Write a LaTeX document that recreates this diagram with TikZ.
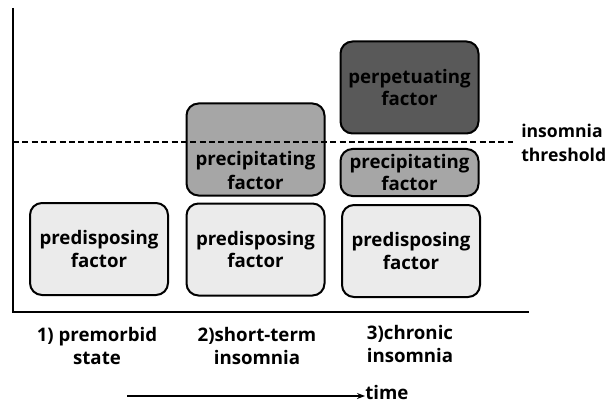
\documentclass[tikz,border=0pt]{standalone}
\usepackage{fontspec}
\setmainfont{Open Sans}
\usetikzlibrary{positioning,arrows.meta}
\definecolor{dispgray}{HTML}{EBEBEB}
\definecolor{precgray}{HTML}{A6A6A6}
\definecolor{perpgray}{HTML}{595959}
\tikzset{
  >={Stealth[length=6pt,width=4.5pt]},
  factor/.style={draw, line width=1.5pt, rounded corners=9pt, minimum width=103.5pt,
    align=center, inner sep=0pt, font=\bfseries\fontsize{14}{17}\selectfont},
  bigfactor/.style={factor, minimum height=69pt},
  smallfactor/.style={factor, minimum height=35.25pt},
  stage/.style={align=center, inner sep=0pt, font=\bfseries\fontsize{14}{17.5}\selectfont},
  axis/.style={line width=1.9pt},
}

\begin{document}
\begin{tikzpicture}[x=0.75pt, y=-0.75pt]
    \useasboundingbox (0,0) rectangle (611,403);
    % axes
    \coordinate (ytop) at (13,8);
    \coordinate (O)    at (13,312);
    \coordinate (xend) at (529,312);
    \draw[axis] (ytop) -- (O) -- (xend);

    % 1) premorbid state
    \node[bigfactor, fill=dispgray] (disp1) at (99,249) {predisposing\\factor};
    % 2) short-term insomnia
    \node[bigfactor, fill=dispgray] (disp2) at (255.5,249.5) {predisposing\\factor};
    \node[bigfactor, fill=precgray] (prec2) at (255.5,149.5) {};
    \node[stage] (prec2txt) at (255.5,170.5) {precipitating\\factor};
    % 3) chronic insomnia
    \node[bigfactor, fill=dispgray] (disp3) at (411,251) {predisposing\\factor};
    \node[smallfactor, fill=precgray] (prec3) at (409.5,172.5) {precipitating\\factor};
    \node[bigfactor, fill=perpgray] (perp3) at (409.5,87.5) {perpetuating\\factor};

    % threshold
    \node[stage, align=left, anchor=west, font=\bfseries\fontsize{13.2}{17.5}\selectfont]
      (thres) at (521,143) {insomnia\\threshold};
    \coordinate (thr0) at (13,142);
    \coordinate (thr1) at (513,142);
    \draw[dashed, line width=1pt, dash pattern=on 4.5pt off 2.5pt] (thr0) -- (thr1);

    % stages
    \node[stage] (st1) at (97,346) {1) premorbid\\state};
    \node[stage] (st2) at (257,346) {2)short-term\\insomnia};
    \node[stage] (st3) at (410,344) {3)chronic\\insomnia};

    % time
    \node[stage, anchor=west] (time) at (365,392) {time};
    \coordinate (t0) at (127,396);
    \draw[->, axis] (t0) -- (t0 -| time.west);
  \end{tikzpicture}
\end{document}
